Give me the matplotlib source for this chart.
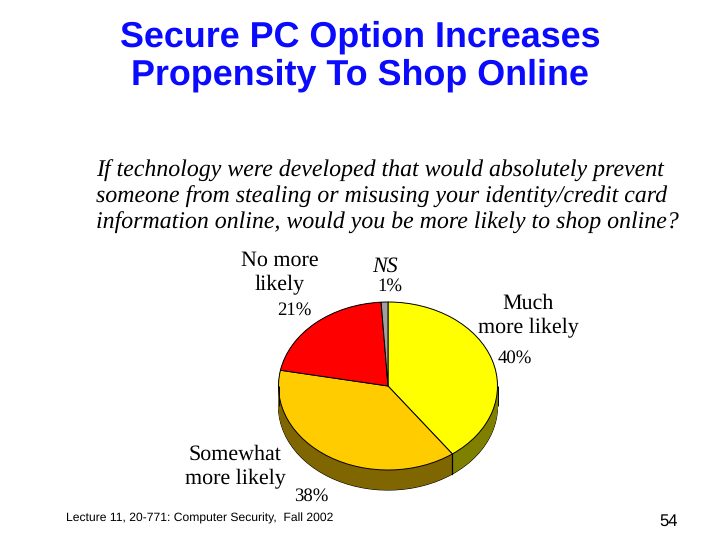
import numpy as np
import matplotlib
matplotlib.use("Agg")
import matplotlib.pyplot as plt

plt.rcParams["text.hinting"] = "no_hinting"

W, H = 721, 541

categories = ["Much\nmore likely", "Somewhat\nmore likely", "No more\nlikely", "NS"]
values = [40, 38, 21, 1]
top_colors = ["#ffff00", "#ffcc00", "#ff0000", "#a0a0a0"]
side_colors = ["#808000", "#806600", "#800000", "#505050"]

title = "Secure PC Option Increases\nPropensity To Shop Online"
question = ["If technology were developed that would absolutely prevent",
            "someone from stealing or misusing your identity/credit card",
            "information online, would you be more likely to shop online?"]
footer = "Lecture 11, 20-771: Computer Security,  Fall 2002"
page = "54"

SERIF = "Liberation Serif"
SANS = "Liberation Sans"

fig = plt.figure(figsize=(W / 100, H / 100), dpi=100, facecolor="white")

# page text goes on a full size axes in pixels
bg = fig.add_axes([0, 0, 1, 1])
bg.set_xlim(0, W)
bg.set_ylim(H, 0)
bg.axis("off")

bg.text(360, 56, title, color="#0a0aff", fontsize=25.8, fontweight="bold", family=SANS,
        ha="center", va="center", linespacing=1.18)
for i, line in enumerate(question):
    bg.text(96, 171 + i * 26, line, fontsize=17.2, style="italic", family=SERIF,
            ha="left", va="center", color="black")

# labels: x, y of centre
label_pos = [(528, 316), (235, 467), (280, 273), (385, 266)]
pct_pos = [(515, 358), (311, 496), (294, 310), (390, 286)]
for i, cat in enumerate(categories):
    x, y = label_pos[i]
    bg.text(x, y, cat, fontsize=15.8, family=SERIF, ha="center", va="center",
            style="italic" if cat == "NS" else "normal", linespacing=1.3)
    x, y = pct_pos[i]
    bg.text(x, y, "%d%%" % values[i], fontsize=13.5, family=SERIF, ha="center", va="center")

bg.text(66, 518, footer, fontsize=8.75, family=SANS, ha="left", va="center")
bg.text(669, 521, page, fontsize=12, family=SANS, ha="center", va="center")

# pie axes, one unit is rx across and ry up
cx, cy, rx, ry, depth = 388, 386, 109.5, 84, 20
ax = fig.add_axes([(cx - rx - 2) / W, 1 - (cy + ry + depth + 2) / H,
                   (2 * rx + 4) / W, (2 * ry + depth + 4) / H])
d = depth / ry
ax.patch.set_alpha(0)

# side of the pie, stacked copies shifted down
ax.pie(values, colors=side_colors, startangle=90, counterclock=False, center=(0, -d),
       wedgeprops=dict(edgecolor="black", linewidth=0.8))
for off in np.linspace(d, 0, 30):
    ax.pie(values, colors=side_colors, startangle=90, counterclock=False, center=(0, -off),
           wedgeprops=dict(edgecolor="none", linewidth=0))
ax.plot([-1, -1], [0, -d], color="black", lw=0.7, solid_capstyle="butt")
ax.plot([1, 1], [0, -d], color="black", lw=0.7, solid_capstyle="butt")

# divider between yellow and orange on the side
ang = np.deg2rad(90 - 360 * values[0] / sum(values))
ax.plot([np.cos(ang)] * 2, [np.sin(ang), np.sin(ang) - d], color="black", lw=0.9)

# top face
ax.pie(values, colors=top_colors, startangle=90, counterclock=False,
       wedgeprops=dict(edgecolor="black", linewidth=0.7))

ax.set_aspect("auto")
ax.set_xlim(-1 - 2 / rx, 1 + 2 / rx)
ax.set_ylim(-1 - d - 2 / ry, 1 + 2 / ry)
ax.axis("off")

fig.savefig("out.png", dpi=100)
